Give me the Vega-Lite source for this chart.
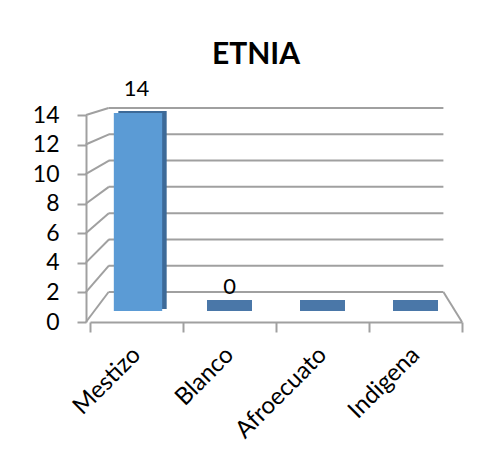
{
  "$schema": "https://vega.github.io/schema/vega-lite/v6.json",
  "width": 372,
  "height": 214,
  "autosize": {"type": "none"},
  "padding": {"left": 90, "top": 108, "right": 38, "bottom": 144},
  "background": "white",
  "config": {
    "view": {"stroke": null},
    "font": "Lato",
    "axis": {
      "domainColor": "#a0a0a0",
      "domainWidth": 2,
      "tickColor": "#a0a0a0",
      "tickWidth": 2,
      "labelFont": "Lato",
      "labelFontSize": 22,
      "labelColor": "#000000",
      "grid": false,
      "title": null
    }
  },
  "title": {
    "text": "ETNIA",
    "font": "Lato",
    "fontSize": 30,
    "fontWeight": "bold",
    "color": "#000000",
    "anchor": "middle",
    "frame": "group",
    "dx": -20,
    "offset": 8
  },
  "datasets": {
    "etnia": [
      {"etnia": "Mestizo", "n": 14},
      {"etnia": "Blanco", "n": 0},
      {"etnia": "Afroecuato", "n": 0},
      {"etnia": "Indigena", "n": 0}
    ],
    "ticks": [
      {"v": 0}, {"v": 2}, {"v": 4}, {"v": 6},
      {"v": 8}, {"v": 10}, {"v": 12}, {"v": 14}
    ]
  },
  "layer": [
    {
      "description": "category axis on the front floor edge",
      "data": {"name": "etnia"},
      "mark": {"type": "bar", "color": "#5b9bd5", "width": {"band": 0.52}, "opacity": 0},
      "encoding": {
        "x": {
          "field": "etnia", "type": "nominal", "sort": null,
          "scale": {"domain": ["Mestizo", "Blanco", "Afroecuato", "Indigena"], "paddingInner": 0, "paddingOuter": 0},
          "axis": {
            "labelAngle": -45, "labelAlign": "right", "labelBaseline": "middle",
            "tickBand": "extent", "tickSize": 10, "labelPadding": 19, "labelFontSize": 24
          }
        },
        "y": {
          "field": "n", "type": "quantitative",
          "scale": {"domain": [0, 14], "range": [203, 5]},
          "axis": null
        }
      }
    },
    {
      "description": "value axis on the front edge of the side wall",
      "data": {"name": "ticks"},
      "mark": {"type": "point", "opacity": 0},
      "encoding": {
        "x": {"datum": "Mestizo", "type": "nominal", "bandPosition": 0},
        "y": {
          "field": "v", "type": "quantitative",
          "scale": {"domain": [0, 14], "range": [214, 7]},
          "axis": {"values": [0, 2, 4, 6, 8, 10, 12, 14], "offset": 4, "tickSize": 9, "labelPadding": 18, "labelFontSize": 23}
        }
      }
    },
    {
      "description": "back wall gridlines and back floor edge",
      "data": {"name": "ticks"},
      "mark": {"type": "rule", "color": "#a0a0a0", "strokeWidth": 2},
      "encoding": {
        "x": {"datum": "Mestizo", "type": "nominal", "bandPosition": 0.2},
        "x2": {"datum": "Indigena", "bandPosition": 0.8},
        "y": {
          "field": "v", "type": "quantitative",
          "scale": {"domain": [0, 14], "range": [184, 0]},
          "axis": null
        }
      }
    },
    {
      "description": "side wall lines joining each front tick to its back gridline, drawn as rotated strokes at their midpoints",
      "data": {"name": "ticks"},
      "mark": {"type": "point", "shape": "stroke", "filled": false, "color": "#a0a0a0", "strokeWidth": 2, "opacity": 1},
      "encoding": {
        "x": {"datum": "Mestizo", "type": "nominal", "bandPosition": 0.0785},
        "y": {
          "field": "v", "type": "quantitative",
          "scale": {"domain": [0, 14], "range": [199, 3.5]},
          "axis": null
        },
        "angle": {
          "field": "v", "type": "quantitative",
          "scale": {"domain": [0, 7, 14], "range": [-53, -39.3, -17.2]},
          "legend": null
        },
        "size": {
          "field": "v", "type": "quantitative",
          "scale": {"domain": [0, 7, 14], "range": [1411, 853, 560]},
          "legend": null
        }
      }
    },
    {
      "description": "right floor edge",
      "data": {"name": "ticks"},
      "transform": [{"filter": "datum.v == 0"}],
      "mark": {"type": "rule", "color": "#a0a0a0", "strokeWidth": 2, "y2Offset": 30},
      "encoding": {
        "x": {"datum": "Indigena", "type": "nominal", "bandPosition": 0.8},
        "x2": {"datum": "Indigena", "bandPosition": 1},
        "y": {
          "field": "v", "type": "quantitative",
          "scale": {"domain": [0, 14], "range": [184, 0]},
          "axis": null
        },
        "y2": {"field": "v"}
      }
    },
    {
      "description": "column side face",
      "data": {"name": "etnia"},
      "mark": {"type": "bar", "color": "#3d6a98", "width": {"band": 0.52}, "xOffset": 6, "yOffset": -2, "y2Offset": -3},
      "encoding": {
        "x": {"field": "etnia", "type": "nominal", "sort": null},
        "y": {
          "field": "n", "type": "quantitative",
          "scale": {"domain": [0, 14], "range": [203, 5]},
          "axis": null
        }
      }
    },
    {
      "description": "column front face",
      "data": {"name": "etnia"},
      "mark": {"type": "bar", "color": "#5b9bd5", "width": {"band": 0.52}, "xOffset": 1.5},
      "encoding": {
        "x": {"field": "etnia", "type": "nominal", "sort": null},
        "y": {
          "field": "n", "type": "quantitative",
          "scale": {"domain": [0, 14], "range": [203, 5]},
          "axis": null
        }
      }
    },
    {
      "description": "flat top faces of the zero-height columns",
      "data": {"name": "etnia"},
      "transform": [{"filter": "datum.n == 0"}],
      "mark": {"type": "tick", "color": "#4a77a8", "opacity": 1, "thickness": 11, "size": 45, "yOffset": -5.5},
      "encoding": {
        "x": {"field": "etnia", "type": "nominal", "sort": null},
        "y": {
          "field": "n", "type": "quantitative",
          "scale": {"domain": [0, 14], "range": [203, 5]},
          "axis": null
        }
      }
    },
    {
      "description": "value labels",
      "data": {"name": "etnia"},
      "transform": [{"filter": "datum.etnia == 'Mestizo' || datum.etnia == 'Blanco'"}],
      "mark": {"type": "text", "font": "Lato", "fontSize": 22, "color": "#000000", "baseline": "middle", "dy": -24},
      "encoding": {
        "x": {"field": "etnia", "type": "nominal", "sort": null},
        "y": {
          "field": "n", "type": "quantitative",
          "scale": {"domain": [0, 14], "range": [203, 5]},
          "axis": null
        },
        "text": {"field": "n", "type": "quantitative"}
      }
    }
  ],
  "resolve": {"scale": {"y": "independent"}, "axis": {"y": "independent"}}
}
